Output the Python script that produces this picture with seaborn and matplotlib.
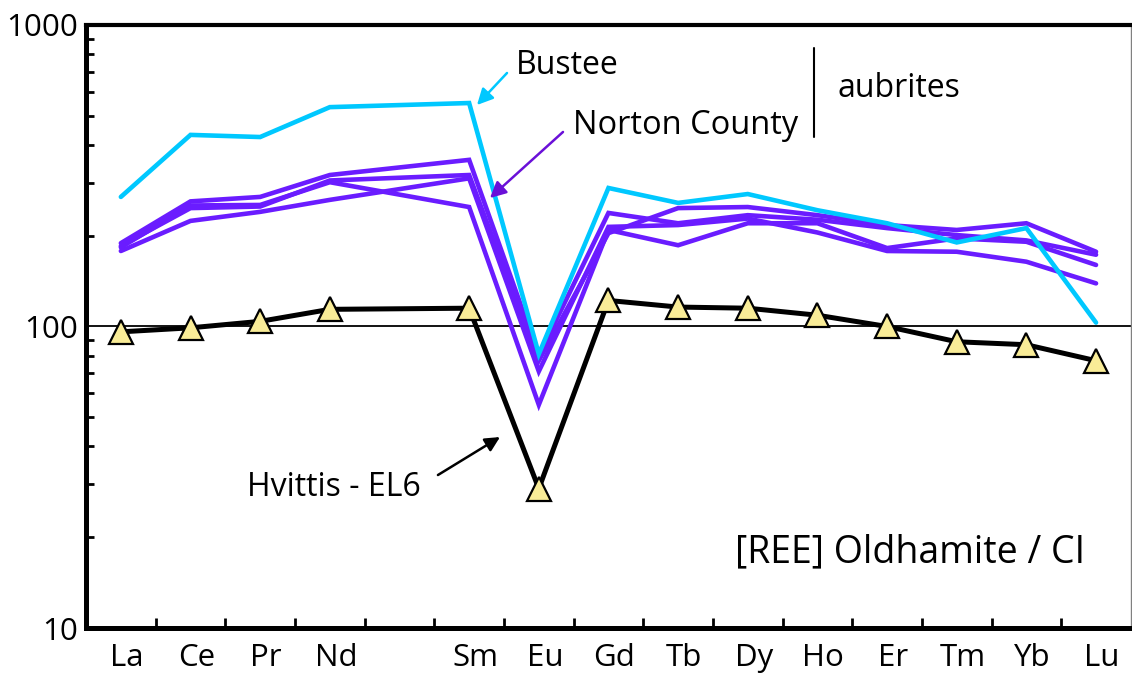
import numpy as np
import pandas as pd
import matplotlib
matplotlib.use("Agg")
import matplotlib.pyplot as plt
import matplotlib.transforms as mtransforms
from matplotlib.ticker import LogLocator, NullFormatter, FixedLocator
import seaborn as sns

# REE sequence (Pm kept as an empty slot on the axis)
ree_sequence = ["La", "Ce", "Pr", "Nd", "Pm", "Sm", "Eu", "Gd", "Tb", "Dy",
                "Ho", "Er", "Tm", "Yb", "Lu"]
tick_labels = ["La", "Ce", "Pr", "Nd", "", "Sm", "Eu", "Gd", "Tb", "Dy",
               "Ho", "Er", "Tm", "Yb", "Lu"]
elements = ["La", "Ce", "Pr", "Nd", "Sm", "Eu", "Gd", "Tb", "Dy",
            "Ho", "Er", "Tm", "Yb", "Lu"]

# CI-normalised REE abundances in oldhamite
hvittis = [96, 99, 104, 114, 115, 29, 122, 116, 115, 109, 100, 89, 87, 77]
bustee = [269, 432, 425, 534, 551, 81, 288, 257, 275, 243, 220, 190, 212, 103]
norton_a = [189, 260, 269, 318, 357, 80, 238, 220, 234, 226, 212, 201, 193, 173]
norton_b = [183, 252, 253, 301, 249, 55, 209, 186, 220, 220, 182, 196, 191, 160]
norton_c = [178, 224, 240, 263, 310, 71, 214, 217, 228, 205, 178, 177, 164, 139]
norton_d = [185, 247, 250, 305, 318, 77, 204, 247, 249, 234, 217, 209, 220, 177]

PURPLE = "#6a1cff"
CYAN = "#00c8ff"
TRI_FILL = "#f9ec97"

x_pos = [ree_sequence.index(e) for e in elements]

aubrites = {
    "Norton County a": norton_a,
    "Norton County b": norton_b,
    "Norton County c": norton_c,
    "Norton County d": norton_d,
    "Bustee": bustee,
}
rows = []
for name, vals in aubrites.items():
    for el, xp, v in zip(elements, x_pos, vals):
        rows.append({"sample": name, "element": el, "pos": xp, "value": v})
df = pd.DataFrame(rows)
palette = {k: (CYAN if k == "Bustee" else PURPLE) for k in aubrites}

sns.set_style("white")
plt.rcParams["font.family"] = ["Open Sans", "DejaVu Sans"]
plt.rcParams["text.color"] = "black"
plt.rcParams["xtick.color"] = "black"
plt.rcParams["ytick.color"] = "black"

fig = plt.figure(figsize=(11.32, 6.79), dpi=100)
ax = fig.add_axes([0.076, 0.0751, 0.923, 0.8881])

ax.set_yscale("log")
ax.set_ylim(10, 1000)
ax.set_xlim(-0.5, 14.5)

# reference level at 100 x CI
ax.axhline(100, color="black", lw=1.3, zorder=1)

sns.lineplot(data=df, x="pos", y="value", hue="sample",
             hue_order=list(aubrites.keys()), palette=palette,
             estimator=None, sort=False, legend=False, lw=3.3,
             solid_joinstyle="miter", ax=ax, zorder=2)

sns.lineplot(x=x_pos, y=hvittis, color="black", lw=3.6, marker="^",
             markersize=17, markerfacecolor=TRI_FILL, markeredgecolor="black",
             markeredgewidth=1.6, solid_joinstyle="miter", estimator=None,
             sort=False, ax=ax, zorder=4)

# axes frame
for side in ["left", "bottom"]:
    ax.spines[side].set_linewidth(3.6)
    ax.spines[side].set_color("black")
ax.spines["top"].set_linewidth(3.0)
ax.spines["top"].set_color("black")
ax.spines["right"].set_linewidth(1.0)
ax.spines["right"].set_color("#808080")

# y ticks
ax.yaxis.set_major_locator(FixedLocator([10, 100, 1000]))
ax.set_yticklabels(["10", "100", "1000"])
ax.yaxis.set_minor_locator(LogLocator(base=10, subs=np.arange(2, 10)))
ax.yaxis.set_minor_formatter(NullFormatter())
ax.tick_params(axis="y", which="major", direction="in", length=0,
               labelsize=22.5, pad=6, labelcolor="black")
ax.tick_params(axis="y", which="minor", direction="in", length=6, width=2,
               left=True, color="black")

# x ticks: labels at elements, tick marks between them
ax.set_xticks(range(len(ree_sequence)))
ax.set_xticklabels(tick_labels)
ax.xaxis.set_minor_locator(FixedLocator(np.arange(0.5, 14, 1.0)))
ax.tick_params(axis="x", which="major", length=0, labelsize=22.5, pad=11,
               labelcolor="black")
ax.tick_params(axis="x", which="minor", direction="in", length=7, width=2,
               bottom=True, color="black")
shift = mtransforms.ScaledTranslation(6 / 100, 0, fig.dpi_scale_trans)
for lab in ax.get_xticklabels():
    lab.set_transform(lab.get_transform() + shift)

ax.set_xlabel("")
ax.set_ylabel("")
ax.grid(False)

# annotations
ax.text(0.4115, 0.932, "Bustee", transform=ax.transAxes,
        fontsize=23, va="center", ha="left", color="black")
ax.annotate("", xy=(0.3742, 0.8673), xytext=(0.4029, 0.9204),
            xycoords="axes fraction", textcoords="axes fraction",
            arrowprops=dict(arrowstyle="-|>", color=CYAN, lw=1.8,
                            mutation_scale=24, shrinkA=0, shrinkB=0))
ax.text(0.466, 0.8325, "Norton County", transform=ax.transAxes,
        fontsize=23.5, va="center", ha="left", color="black")
ax.annotate("", xy=(0.3866, 0.7131), xytext=(0.4565, 0.8226),
            xycoords="axes fraction", textcoords="axes fraction",
            arrowprops=dict(arrowstyle="-|>", color="#6a10d8", lw=1.8,
                            mutation_scale=24, shrinkA=0, shrinkB=0))
ax.plot([0.6967, 0.6967], [0.8143, 0.9619], transform=ax.transAxes,
        color="black", lw=1.5)
ax.text(0.7196, 0.8955, "aubrites", transform=ax.transAxes,
        fontsize=23, va="center", ha="left", color="black")
ax.text(0.1541, 0.2322, "Hvittis - EL6", transform=ax.transAxes,
        fontsize=23, va="center", ha="left", color="black")
ax.annotate("", xy=(0.3962, 0.3167), xytext=(0.3368, 0.2537),
            xycoords="axes fraction", textcoords="axes fraction",
            arrowprops=dict(arrowstyle="-|>", color="black", lw=1.8,
                            mutation_scale=22, shrinkA=0, shrinkB=0))
ax.text(0.621, 0.126, "[REE] Oldhamite / CI", transform=ax.transAxes,
        fontsize=27, va="center", ha="left", color="black")

fig.savefig("out.png", dpi=100)
